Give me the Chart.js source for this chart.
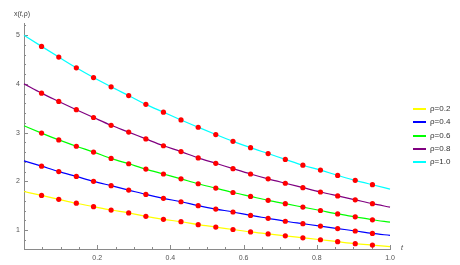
<!DOCTYPE html>
<html>
<head>
<meta charset="utf-8">
<script src="https://cdn.jsdelivr.net/npm/chart.js@4/dist/chart.umd.min.js"></script>
<style>
  body { margin: 0; background: #fff; }
  #wrap { position: relative; width: 460px; height: 265px; }
  .lbl { position: absolute; font-family: 'Liberation Sans', Arial, sans-serif; color: #444; white-space: nowrap; }
  .leg { position: absolute; left: 413px; font-family: 'Liberation Sans', Arial, sans-serif; font-size: 8px; color: #333; }
  .leg span { display: inline-block; width: 13px; height: 2px; vertical-align: middle; margin-right: 4px; }
</style>
</head>
<body>
<div id="wrap">
  <canvas id="c" width="460" height="265"></canvas>
  <div class="lbl" style="left:14px; top:10px; font-size:7px;">x(<i>t</i>,ρ)</div>
  <div class="lbl" style="left:401px; top:244px; font-size:7px;"><i>t</i></div>
  <div id="legend"></div>
</div>
<script>
// tempo t (pontos em passos de ~1/21)
const tVals = [0, 0.048, 0.095, 0.143, 0.19, 0.238, 0.286, 0.333, 0.381, 0.429, 0.476,
               0.524, 0.571, 0.619, 0.667, 0.714, 0.762, 0.81, 0.857, 0.905, 0.952, 1];

const rho02 = [1.79, 1.71, 1.63, 1.55, 1.48, 1.41, 1.35, 1.28, 1.22, 1.17, 1.11,
               1.06, 1.01, 0.96, 0.92, 0.88, 0.84, 0.80, 0.76, 0.72, 0.69, 0.66];
const rho04 = [2.42, 2.31, 2.20, 2.10, 2.00, 1.91, 1.82, 1.73, 1.65, 1.58, 1.50,
               1.43, 1.37, 1.30, 1.24, 1.18, 1.13, 1.08, 1.03, 0.98, 0.93, 0.89];
const rho06 = [3.14, 2.99, 2.85, 2.72, 2.60, 2.47, 2.36, 2.25, 2.15, 2.05, 1.95,
               1.86, 1.77, 1.69, 1.61, 1.54, 1.47, 1.40, 1.33, 1.27, 1.21, 1.16];
const rho08 = [4.00, 3.81, 3.64, 3.47, 3.31, 3.15, 3.01, 2.87, 2.73, 2.61, 2.48,
               2.37, 2.26, 2.15, 2.05, 1.96, 1.87, 1.78, 1.70, 1.62, 1.54, 1.47];
const rho10 = [5.00, 4.77, 4.55, 4.33, 4.13, 3.94, 3.76, 3.58, 3.42, 3.26, 3.11,
               2.96, 2.82, 2.69, 2.57, 2.45, 2.33, 2.23, 2.12, 2.02, 1.93, 1.84];

const seriesNames = ['ρ=0.2', 'ρ=0.4', 'ρ=0.6', 'ρ=0.8', 'ρ=1.0'];
const seriesData = [rho02, rho04, rho06, rho08, rho10];
const seriesColors = ['#ffff00', '#0000ff', '#00ff00', '#800080', '#00ffff'];

const xMajor = [0.2, 0.4, 0.6, 0.8, 1.0];
const xMinor = [0.05, 0.1, 0.15, 0.25, 0.3, 0.35, 0.45, 0.5, 0.55, 0.65, 0.7, 0.75, 0.85, 0.9, 0.95];
const yMajor = [1, 2, 3, 4, 5];
const yMinor = [0.8, 1.2, 1.4, 1.6, 1.8, 2.2, 2.4, 2.6, 2.8, 3.2, 3.4, 3.6, 3.8, 4.2, 4.4, 4.6, 4.8, 5.2];

const AXIS = '#8a8a8a';

// ticks para dentro, estilo Mathematica
const innerTicks = {
    id: 'innerTicks',
    beforeDatasetsDraw(chart) {
        const { ctx, chartArea: a, scales: { x, y } } = chart;
        ctx.save();
        ctx.strokeStyle = AXIS;
        ctx.lineWidth = 1;
        ctx.beginPath();
        const tx = (v, len) => { const px = Math.round(x.getPixelForValue(v)) + 0.5; ctx.moveTo(px, a.bottom); ctx.lineTo(px, a.bottom - len); };
        const ty = (v, len) => { const py = Math.round(y.getPixelForValue(v)) + 0.5; ctx.moveTo(a.left, py); ctx.lineTo(a.left + len, py); };
        xMajor.forEach(v => tx(v, 4));
        xMinor.forEach(v => tx(v, 2));
        yMajor.forEach(v => ty(v, 4));
        yMinor.forEach(v => ty(v, 2));
        ctx.stroke();
        ctx.restore();
    }
};

const datasets = seriesData.map((d, i) => ({
    label: seriesNames[i],
    data: d.map((v, k) => ({ x: tVals[k], y: v })),
    borderColor: seriesColors[i],
    borderWidth: 1.2,
    cubicInterpolationMode: 'monotone',
    pointRadius: ctx => (ctx.dataIndex === 0 || ctx.dataIndex === d.length - 1) ? 0 : 2.6,
    pointBackgroundColor: '#ff0000',
    pointBorderColor: '#ff0000',
    pointBorderWidth: 0,
    clip: false
}));

new Chart(document.getElementById('c'), {
    type: 'line',
    data: { datasets },
    options: {
        responsive: false,
        animation: false,
        events: [],
        layout: { padding: { top: 23, right: 70, left: 0, bottom: 0 } },
        plugins: { legend: { display: false }, tooltip: { enabled: false } },
        scales: {
            x: {
                type: 'linear', min: 0, max: 1,
                afterFit: s => { s.height = 16; },
                afterBuildTicks: s => { s.ticks = xMajor.map(v => ({ value: v })); },
                grid: { display: false, drawTicks: false },
                border: { display: true, color: AXIS, width: 1 },
                ticks: {
                    padding: 5, color: '#555',
                    font: { family: "'Liberation Sans', Arial, sans-serif", size: 7 },
                    callback: v => v.toFixed(1)
                }
            },
            y: {
                type: 'linear', min: 0.61, max: 5.25,
                afterFit: s => { s.width = 24; },
                afterBuildTicks: s => { s.ticks = yMajor.map(v => ({ value: v })); },
                grid: { display: false, drawTicks: false },
                border: { display: true, color: AXIS, width: 1 },
                ticks: {
                    padding: 4, color: '#555',
                    font: { family: "'Liberation Sans', Arial, sans-serif", size: 7 },
                    callback: v => String(v)
                }
            }
        }
    },
    plugins: [innerTicks]
});

// legenda
const legTops = [104, 117, 131, 144, 157];
const legend = document.getElementById('legend');
seriesNames.forEach((name, i) => {
    const row = document.createElement('div');
    row.className = 'leg';
    row.style.top = legTops[i] + 'px';
    row.innerHTML = `<span style="background:${seriesColors[i]}"></span>${name}`;
    legend.appendChild(row);
});
</script>
</body>
</html>
